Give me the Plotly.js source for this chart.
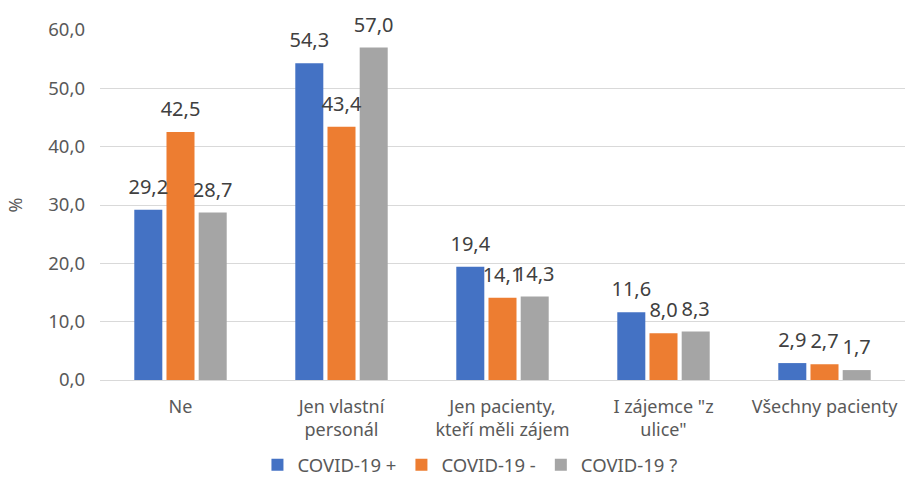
<!DOCTYPE html>
<html><head><meta charset="utf-8">
<script src="https://cdn.plot.ly/plotly-3.0.1.min.js"></script>
<style>html,body{margin:0;padding:0;background:#fff}</style>
</head><body>
<div id="chart" style="width:909px;height:494px"></div>
<script>
const categories = ["Ne", "Jen vlastní<br>personál", "Jen pacienty,<br>kteří měli zájem", "I zájemce \"z<br>ulice\"", "Všechny pacienty"];
const seriesNames = ["COVID-19 +", "COVID-19 -", "COVID-19 ?"];
const covidPos = [29.2, 54.3, 19.4, 11.6, 2.9];
const covidNeg = [42.5, 43.4, 14.1, 8.0, 2.7];
const covidUnk = [28.7, 57.0, 14.3, 8.3, 1.7];
const colors = ["#4472C4", "#ED7D31", "#A5A5A5"];
const values = [covidPos, covidNeg, covidUnk];

const font = "Noto Sans, Open Sans, sans-serif";
const bars = values.map((v, i) => ({
  type: "bar",
  name: seriesNames[i],
  x: categories,
  y: v,
  offsetgroup: "g" + i,
  marker: {color: colors[i]},
  hoverinfo: "skip"
}));
const labels = values.map((v, i) => ({
  type: "scatter",
  mode: "markers+text",
  showlegend: false,
  x: categories,
  y: v,
  offsetgroup: "g" + i,
  marker: {size: 16, opacity: 0},
  texttemplate: "%{y:.1f}",
  textposition: "top center",
  cliponaxis: false,
  textfont: {family: font, size: 20, color: "#404040"},
  hoverinfo: "skip"
}));

const layout = {
  width: 909, height: 494,
  margin: {l: 100, r: 4, t: 30, b: 114},
  separators: ",.",
  paper_bgcolor: "#fff", plot_bgcolor: "#fff",
  barmode: "group",
  scattermode: "group",
  bargap: 0.4,
  scattergap: 0.4,
  bargroupgap: 0.13,
  font: {family: font, color: "#595959", size: 18},
  xaxis: {
    tickfont: {family: font, size: 18, color: "#595959"},
    showline: true, linecolor: "#d9d9d9", linewidth: 1,
    ticks: "", showgrid: false, ticklabelstandoff: 10
  },
  yaxis: {
    range: [0, 60], dtick: 10, tickformat: ".1f",
    tickfont: {family: font, size: 18.5, color: "#595959"},
    gridcolor: "#d9d9d9", gridwidth: 1,
    zeroline: false, showline: false, ticks: "",
    ticklabelstandoff: 14,
    title: {text: "%", font: {family: font, size: 18, color: "#595959"}, standoff: 20}
  },
  showlegend: true,
  legend: {
    orientation: "h", xref: "container", yref: "container",
    x: 0.517, xanchor: "center", y: 0.02, yanchor: "bottom",
    font: {family: font, size: 18.5, color: "#595959"},
    traceorder: "normal", itemwidth: 30
  }
};
Plotly.newPlot("chart", bars.concat(labels), layout, {displayModeBar: false, staticPlot: true});
</script>
</body></html>
